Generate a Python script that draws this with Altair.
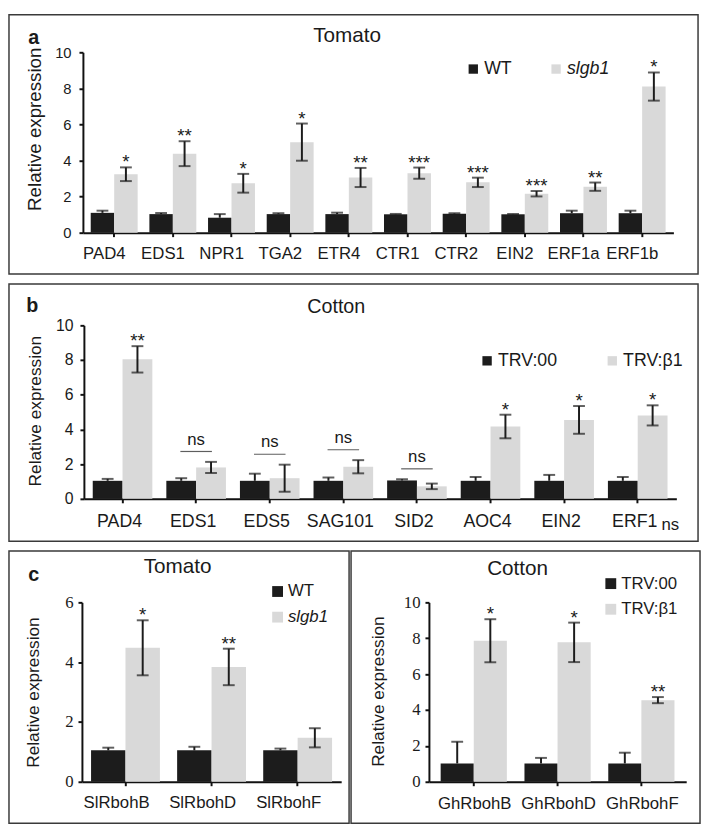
import altair as alt
import pandas as pd

# ---------------- data ----------------
a_genes = ["PAD4", "EDS1", "NPR1", "TGA2", "ETR4", "CTR1", "CTR2", "EIN2", "ERF1a", "ERF1b"]
a_groups = ["WT", "slgb1"]
a_wt = [1.10, 1.03, 0.83, 1.03, 1.03, 1.02, 1.05, 1.02, 1.08, 1.08]
a_wt_err = [0.12, 0.06, 0.20, 0.05, 0.08, 0.02, 0.03, 0.02, 0.14, 0.14]
a_mut = [3.24, 4.38, 2.74, 5.02, 3.06, 3.30, 2.79, 2.16, 2.55, 8.10]
a_mut_err = [0.38, 0.69, 0.52, 1.03, 0.53, 0.31, 0.26, 0.15, 0.23, 0.78]
a_sig = ["*", "**", "*", "*", "**", "***", "***", "***", "**", "*"]

b_genes = ["PAD4", "EDS1", "EDS5", "SAG101", "SID2", "AOC4", "EIN2", "ERF1"]
b_groups = ["TRV:00", "TRV:β1"]
b_wt = [1.04, 1.04, 1.04, 1.04, 1.06, 1.04, 1.04, 1.04]
b_wt_err = [0.11, 0.15, 0.41, 0.19, 0.07, 0.22, 0.34, 0.22]
b_trv = [8.04, 1.81, 1.19, 1.85, 0.72, 4.17, 4.55, 4.81]
b_trv_err = [0.76, 0.32, 0.78, 0.38, 0.16, 0.68, 0.80, 0.58]
b_sig = ["**", "ns", "ns", "ns", "ns", "*", "*", "*"]

c1_genes = ["SlRbohB", "SlRbohD", "SlRbohF"]
c1_groups = ["WT", "slgb1"]
c1_wt = [1.05, 1.05, 1.05]
c1_wt_err = [0.09, 0.12, 0.06]
c1_mut = [4.48, 3.84, 1.47]
c1_mut_err = [0.92, 0.61, 0.32]
c1_sig = ["*", "**", ""]

c2_genes = ["GhRbohB", "GhRbohD", "GhRbohF"]
c2_groups = ["TRV:00", "TRV:β1"]
c2_wt = [1.02, 1.02, 1.02]
c2_wt_err = [1.21, 0.31, 0.60]
c2_trv = [7.86, 7.77, 4.55]
c2_trv_err = [1.20, 1.10, 0.17]
c2_sig = ["*", "*", "**"]

# ---------------- style ----------------
FONT = "Liberation Sans"
SERIF = "Liberation Serif"
BLACK = "#1c1c1c"
GRAY = "#d9d9d9"
TEXT = "#1a1a1a"


def make_df(genes, groups, wt, wt_err, mut, mut_err, sig):
    rows = []
    for i, g in enumerate(genes):
        rows.append(dict(gene=g, group=groups[0], value=wt[i], lo=wt[i],
                         hi=wt[i] + wt_err[i], sig=""))
        rows.append(dict(gene=g, group=groups[1], value=mut[i], lo=mut[i] - mut_err[i],
                         hi=mut[i] + mut_err[i], sig=sig[i]))
    return pd.DataFrame(rows)


def panel(genes, groups, wt, wt_err, mut, mut_err, sig, p):
    df = make_df(genes, groups, wt, wt_err, mut, mut_err, sig)
    n = len(genes)
    step = (p["xr"][1] - p["xr"][0]) / (n - p["pi"] + 2 * p["po"])
    hb = step * (1 - p["pi"]) / 2.0  # width of one bar
    xscale = alt.Scale(domain=genes, range=p["xr"], paddingInner=p["pi"], paddingOuter=p["po"])
    xaxis = alt.Axis(title=None, labelAngle=0, offset=-(p["h"] - p["yr"][0]),
                     labelFont=FONT, labelFontSize=p["xls"], labelOffset=p["xlo"],
                     labelPadding=p["xlp"], tickSize=4)
    yscale = alt.Scale(domain=p["ydom"], range=p["yr"], nice=False, zero=True)
    yaxis = alt.Axis(title="Relative expression", values=p["yticks"], offset=-p["xr"][0],
                     labelFont=p["ylf"], labelFontSize=p["yls"], labelPadding=p["ylp"],
                     tickSize=4, titleFont=FONT, titleFontSize=p["yts"],
                     titleFontWeight="normal", titleX=p["tx"], titleY=p["ty"],
                     titleAlign="center", titleBaseline="middle", titleAngle=270)

    def X():
        return alt.X("gene:N", sort=genes, scale=xscale, axis=xaxis)

    def Y(field):
        return alt.Y(f"{field}:Q", scale=yscale, axis=yaxis)

    leg = alt.Legend(title=None, orient="none", legendX=p["lx"], legendY=p["ly"],
                     direction=p["ldir"], symbolType="square", symbolSize=p["lss"],
                     symbolStrokeWidth=0, labelFont=FONT, labelFontSize=p["lfs"],
                     labelColor=TEXT, labelOffset=2, columnPadding=p.get("lcp", 10),
                     rowPadding=p.get("lrp", 4), padding=0,
                     labelFontStyle=alt.ExprRef("datum.label == 'slgb1' ? 'italic' : 'normal'"))
    color = alt.Color("group:N", sort=groups,
                      scale=alt.Scale(domain=groups, range=[BLACK, GRAY]), legend=leg)

    layers = []
    for k, grp in enumerate(groups):
        off = (-0.5 if k == 0 else 0.5) * hb
        sub = alt.Chart(df).transform_filter(alt.datum.group == grp)
        layers.append(sub.mark_bar(width=hb, xOffset=off).encode(
            x=X(), y=Y("value"), color=color))
        layers.append(sub.mark_rule(color=BLACK, strokeWidth=2, xOffset=off).encode(
            x=X(), y=Y("lo"), y2="hi:Q"))
        layers.append(sub.mark_tick(color=BLACK, thickness=2, size=12, xOffset=off).encode(
            x=X(), y=Y("hi")))
        if k == 1:
            layers.append(sub.mark_tick(color=BLACK, thickness=2, size=12, xOffset=off).encode(
                x=X(), y=Y("lo")))
            layers.append(sub.transform_filter(
                (alt.datum.sig != "") & (alt.datum.sig != "ns")
            ).mark_text(font=FONT, fontSize=19, baseline="alphabetic", dy=1, dx=off,
                        color=TEXT).encode(x=X(), y=Y("hi"), text="sig:N"))

    ns_rows = []
    for i, g in enumerate(genes):
        if sig[i] == "ns":
            top = max(wt[i] + wt_err[i], mut[i] + mut_err[i])
            ns_rows.append(dict(gene=g, level=top + 0.6, t="ns"))
    if ns_rows:
        nsdf = alt.Chart(pd.DataFrame(ns_rows))
        layers.append(nsdf.mark_tick(color=TEXT, thickness=1.2, size=32).encode(
            x=X(), y=Y("level")))
        layers.append(nsdf.mark_text(font=FONT, fontSize=17, baseline="alphabetic",
                                     dy=-7, color=TEXT).encode(x=X(), y=Y("level"), text="t:N"))

    if p.get("extra_ns"):
        g, dx, yy = p["extra_ns"]
        layers.append(alt.Chart(pd.DataFrame({"gene": [g], "t": ["ns"]})).mark_text(
            font=FONT, fontSize=17, baseline="alphabetic", dx=dx, color=TEXT).encode(
            x=X(), y=alt.value(yy), text="t:N"))

    if p["letter"]:
        layers.append(alt.Chart(pd.DataFrame({"t": [p["letter"]]})).mark_text(
            font=FONT, fontSize=20, fontWeight="bold", baseline="alphabetic", align="center",
            color=TEXT).encode(x=alt.value(p["letter_xy"][0]), y=alt.value(p["letter_xy"][1]),
                               text="t:N"))

    layers.append(alt.Chart(pd.DataFrame({"t": [p["title"]]})).mark_text(
        font=FONT, fontSize=p["tfs"], baseline="alphabetic", align="center",
        color=TEXT).encode(x=alt.value(p["title_xy"][0]), y=alt.value(p["title_xy"][1]),
                           text="t:N"))

    return alt.layer(*layers).properties(width=p["w"], height=p["h"])


pa = dict(w=699, h=263, xr=[75, 674], pi=0.2, po=0.133, yr=[221, 38], ydom=[0, 10],
          yticks=[0, 2, 4, 6, 8, 10], xls=17, xlo=-10, xlp=9, ylf=FONT, yls=15, ylp=8,
          yts=19, tx=-49, ty=115.6, lx=462, ly=46, ldir="horizontal", lss=90, lfs=18,
          lcp=36, letter="a", letter_xy=(25, 30), title="Tomato", tfs=21, title_xy=(343, 28))
pb = dict(w=699, h=261, xr=[76, 677], pi=0.19, po=0.12, yr=[218, 42], ydom=[0, 10],
          yticks=[0, 2, 4, 6, 8, 10], xls=18, xlo=-3, xlp=10.5, ylf=FONT, yls=16, ylp=7,
          yts=17.5, tx=-49, ty=128.5, lx=476, ly=69, ldir="horizontal", lss=90, lfs=18,
          lcp=46, letter="b", letter_xy=(23.5, 28), title="Cotton", tfs=20, title_xy=(332, 29),
          extra_ns=("ERF1", 33, 250))
pc1 = dict(w=345, h=276, xr=[74, 337], pi=0.2, po=0.106, yr=[234, 52], ydom=[0, 6],
           yticks=[0, 2, 4, 6], xls=17, xlo=-9, xlp=9.5, ylf=SERIF, yls=17, ylp=5,
           yts=17.5, tx=-49, ty=143, lx=264, ly=32.5, ldir="vertical", lss=121, lfs=17,
           lrp=8, letter="c", letter_xy=(25, 30), title="Tomato", tfs=21, title_xy=(171, 22))
pc2 = dict(w=354, h=276, xr=[79, 340], pi=0.21, po=0.14, yr=[234, 52], ydom=[0, 10],
           yticks=[0, 2, 4, 6, 8, 10], xls=17, xlo=1, xlp=10, ylf=SERIF, yls=17, ylp=5,
           yts=17.5, tx=-51, ty=142, lx=255, ly=24.5, ldir="vertical", lss=121, lfs=17,
           lrp=8, letter="", letter_xy=(0, 0), title="Cotton", tfs=21, title_xy=(169, 24))

A = panel(a_genes, a_groups, a_wt, a_wt_err, a_mut, a_mut_err, a_sig, pa)
B = panel(b_genes, b_groups, b_wt, b_wt_err, b_trv, b_trv_err, b_sig, pb)
C1 = panel(c1_genes, c1_groups, c1_wt, c1_wt_err, c1_mut, c1_mut_err, c1_sig, pc1)
C2 = panel(c2_genes, c2_groups, c2_wt, c2_wt_err, c2_trv, c2_trv_err, c2_sig, pc2)

C = alt.hconcat(C1, C2, spacing=0).resolve_scale(
    color="independent", x="independent", y="independent").resolve_legend(color="independent")

chart = alt.vconcat(A, B, C, spacing=8, padding=0).resolve_scale(
    color="independent", x="independent", y="independent").resolve_legend(
    color="independent").configure_view(
    stroke="#3a3a3a", strokeWidth=1.5).configure_axis(
    domainColor="#111111", domainWidth=2, tickColor="#111111", tickWidth=2,
    labelColor=TEXT, titleColor=TEXT, grid=False)

chart.save("out.html", embed_options={"renderer": "svg", "actions": False})
